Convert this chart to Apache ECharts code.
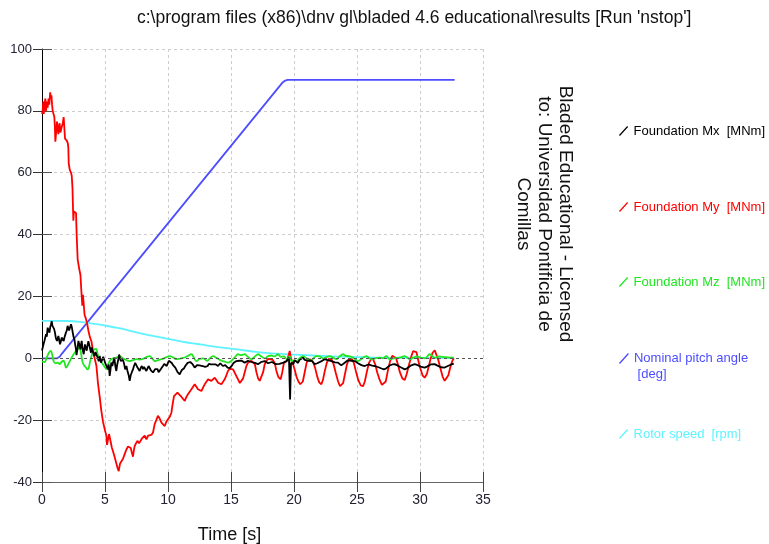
<!DOCTYPE html>
<html>
<head>
<meta charset="utf-8">
<title>Run nstop</title>
<script src="https://cdn.jsdelivr.net/npm/echarts@6/dist/echarts.min.js"></script>
<style>
  html, body { margin: 0; padding: 0; background: #ffffff; }
  #chart { width: 769px; height: 544px; }
</style>
</head>
<body>
<div id="chart"></div>
<script>
// ---- Time axis ticks ----
const xTicks = [0, 5, 10, 15, 20, 25, 30, 35];
const yTicks = [-40, -20, 0, 20, 40, 60, 80, 100];

// ---- Foundation Mx [MNm] ----
const mxTime = [0,0.06,0.12,0.19,0.25,0.32,0.38,0.45,0.52,0.59,0.65,0.72,0.77,0.83,0.9,0.96,1.03,1.1,1.19,1.25,1.3,1.36,1.43,1.5,1.56,1.63,1.72,1.8,1.9,1.97,2.03,2.09,2.15,2.22,2.3,2.37,2.44,2.5,2.57,2.63,2.7,2.74,2.78,2.83,2.89,2.96,3.05,3.1,3.15,3.22,3.31,3.36,3.41,3.48,3.55,3.6,3.68,3.76,3.82,3.89,3.95,4.02,4.09,4.16,4.25,4.33,4.42,4.5,4.58,4.68,4.77,4.86,4.95,5.05,5.15,5.24,5.3,5.37,5.44,5.5,5.58,5.66,5.74,5.82,5.9,5.97,6.05,6.12,6.17,6.25,6.33,6.42,6.5,6.6,6.7,6.78,6.88,6.96,7.04,7.13,7.22,7.3,7.4,7.49,7.58,7.67,7.75,7.83,7.92,8.02,8.1,8.18,8.28,8.37,8.46,8.55,8.63,8.72,8.81,8.9,8.99,9.08,9.17,9.25,9.34,9.43,9.52,9.6,9.7,9.8,9.9,10,10.07,10.13,10.2,10.3,10.4,10.5,10.58,10.67,10.76,10.85,10.93,11.01,11.1,11.19,11.28,11.37,11.46,11.56,11.66,11.76,11.86,11.95,12.04,12.12,12.2,12.3,12.4,12.5,12.58,12.65,12.75,12.85,12.95,13.05,13.15,13.24,13.31,13.4,13.5,13.6,13.7,13.8,13.9,13.97,14.05,14.15,14.25,14.35,14.45,14.55,14.63,14.73,14.82,14.9,15,15.1,15.2,15.3,15.43,15.56,15.65,15.75,15.85,15.96,16.09,16.2,16.35,16.5,16.62,16.75,16.9,17.02,17.14,17.28,17.4,17.55,17.67,17.8,17.95,18.1,18.25,18.4,18.55,18.7,18.85,19,19.15,19.3,19.4,19.5,19.6,19.66,19.69,19.73,19.76,19.85,19.95,20.05,20.19,20.3,20.45,20.6,20.71,20.85,21,21.1,21.25,21.4,21.5,21.64,21.75,21.85,22,22.15,22.3,22.44,22.6,22.75,22.97,23.1,23.25,23.35,23.49,23.6,23.75,23.89,24,24.1,24.25,24.4,24.55,24.7,24.82,24.95,25.08,25.21,25.35,25.5,25.61,25.75,25.9,26.05,26.2,26.41,26.55,26.7,26.8,26.95,27.06,27.14,27.3,27.45,27.6,27.8,27.99,28.15,28.3,28.5,28.65,28.79,28.95,29.1,29.25,29.4,29.58,29.75,29.9,30.05,30.2,30.37,30.55,30.7,30.85,31,31.17,31.35,31.5,31.65,31.8,31.96,32.1,32.25,32.4,32.55,32.68];
const mxValues = [2.5,3,4.5,5.6,5,7.8,7,9.9,9,8.3,10,11,12,10.5,11,9.5,8.3,6.5,5.6,6.5,7.2,6,4.5,5.5,6.7,6.2,5.6,7,8.3,9,10.5,9.9,9,9.5,11,10,8.3,7,6.1,4.5,2.9,1,0.7,3.5,5.6,4.5,2.9,4.5,5.6,3,1.3,3,4.5,3.2,2.5,4,5.5,5.1,3,1.8,3.5,2.9,1.5,0.7,2,1,0.2,-1,0.8,-1.4,-0.5,0.5,0.2,-1.9,-2.5,-3.6,-2,-5.7,-3.5,-1.4,-2.5,-1,0.2,-2.5,-4.1,-2,-0.5,1.2,1.8,-0.9,-1.5,-0.5,-1.5,-3.6,-2.5,-4,-5.5,-7.3,-5.5,-4.5,-3.6,-2.5,-1.5,-1.9,-3,-2.5,-4.1,-3.2,-2.5,-3.5,-2.8,-3,-4.1,-3.5,-2.5,-3,-3.8,-4,-4.6,-4,-3.5,-3,-3.5,-4.5,-4.1,-3.5,-3,-2.5,-1.8,-1.5,-2.5,-1.5,-0.8,-0.3,-1,-1.5,-2.2,-2.8,-3,-3.6,-4.5,-4.8,-5.2,-4.5,-3.8,-4.1,-3.2,-2.5,-2,-1.5,-2,-1.2,-0.9,-1.9,-2.5,-3,-2.5,-2.2,-2.8,-2.3,-1.9,-1.9,-2.5,-2.2,-2.8,-3,-2.5,-1.8,-1.4,-2,-1.7,-2,-2.3,-2,-2.4,-2.5,-2,-1.6,-2.1,-2.5,-2,-2.2,-2.5,-3,-3.6,-3.2,-2.6,-2.2,-1.5,-1.2,-0.9,-0.3,-0.8,-1.2,-0.8,-0.9,-1.4,-1.1,-0.8,-0.9,-1.2,-1,-1.5,-1.7,-1.9,-1.5,-1.2,-1,-0.9,-1.3,-1.6,-1.5,-1.2,-1.6,-1.9,-1.5,-1.8,-1.9,-1.4,-1,-0.9,-0.5,0.2,0.2,-13.3,-13,-1.5,-0.9,-1.8,-0.6,-0.9,-1.5,-0.5,-0.2,0.2,-0.5,-0.4,-0.8,-0.3,-0.8,-1.2,-1.9,-2.3,-1.6,-1.2,-1,-0.6,-0.3,-0.5,-0.8,-0.9,-1.2,-1.3,-1,-1.4,-1.8,-2.3,-2.5,-1.5,-0.9,-0.7,-1,-0.8,-1,-0.9,-1.3,-1.6,-1.9,-2.2,-2.3,-2.5,-2.2,-2,-2.2,-2.4,-2.5,-2.7,-2.9,-3,-3.3,-3.6,-3.6,-3.3,-2.8,-2.3,-2,-1.9,-2.2,-2.5,-3,-3.4,-3.6,-3.3,-2.8,-2.4,-2,-1.9,-2.1,-2.4,-2.7,-2.9,-3,-2.7,-2.3,-2,-1.8,-1.9,-2.3,-2.7,-2.9,-3,-3,-2.8,-2.4,-2.1,-1.9,-1.7];

// ---- Foundation My [MNm] ----
const myTime = [0,0.05,0.1,0.14,0.2,0.27,0.32,0.38,0.45,0.52,0.58,0.65,0.7,0.75,0.8,0.85,0.92,0.98,1.02,1.06,1.12,1.19,1.25,1.3,1.35,1.4,1.46,1.51,1.58,1.65,1.72,1.78,1.83,1.9,1.98,2.05,2.09,2.12,2.2,2.3,2.36,2.42,2.47,2.49,2.53,2.6,2.7,2.75,2.83,2.95,3.05,3.12,3.2,3.25,3.3,3.38,3.47,3.57,3.68,3.79,3.92,4.05,4.18,4.32,4.44,4.58,4.71,4.84,4.98,5.11,5.16,5.24,5.32,5.37,5.45,5.55,5.63,5.77,5.9,6,6.09,6.15,6.2,6.3,6.43,6.56,6.7,6.83,6.96,7.04,7.13,7.22,7.3,7.36,7.46,7.57,7.7,7.83,7.92,8.02,8.15,8.29,8.42,8.55,8.68,8.81,8.94,9.07,9.2,9.34,9.48,9.61,9.74,9.87,10,10.13,10.27,10.38,10.48,10.62,10.75,10.88,11.01,11.17,11.33,11.46,11.59,11.72,11.86,12,12.12,12.25,12.38,12.52,12.65,12.78,12.91,13.05,13.18,13.31,13.44,13.57,13.71,13.84,13.97,14.1,14.24,14.37,14.5,14.63,14.76,14.9,15.03,15.16,15.29,15.43,15.56,15.7,15.83,15.96,16.09,16.22,16.35,16.5,16.62,16.75,16.9,17.02,17.15,17.28,17.41,17.55,17.67,17.8,17.94,18.1,18.3,18.47,18.6,18.75,18.87,18.94,19.07,19.2,19.3,19.45,19.6,19.66,19.71,19.76,19.9,20.05,20.2,20.35,20.5,20.59,20.7,20.85,21,21.1,21.25,21.4,21.55,21.7,21.85,22,22.17,22.3,22.45,22.6,22.75,22.83,23,23.15,23.3,23.5,23.65,23.76,23.9,24.05,24.2,24.35,24.42,24.6,24.75,24.9,25.1,25.3,25.48,25.62,25.8,25.95,26.14,26.3,26.45,26.6,26.8,26.98,27.12,27.28,27.45,27.62,27.8,27.95,28.1,28.25,28.4,28.6,28.79,28.95,29.1,29.3,29.45,29.58,29.72,29.85,30,30.2,30.37,30.55,30.7,30.85,31,31.17,31.3,31.45,31.6,31.8,31.96,32.1,32.25,32.4,32.55,32.68];
const myValues = [79,80,83,79,82,84,80,83,81,84,82,86,84,85,82,80,80,78,75,70,73,76.5,74,72.5,75,76,73,72.5,75,76,78,74,71,70.5,70.3,69.5,68,63,61,60,59,55,47,44.5,47.5,47,47,40,32,29,27,22,17,20.5,18,14,13,11.5,9,7,5.5,2.5,0,-2.5,-8,-12.5,-17,-20.5,-23,-25,-28,-28.5,-24.5,-24,-27,-29,-30,-32,-34,-35.5,-36.5,-35,-34,-33.5,-32.5,-31,-29.5,-28.5,-29,-29,-30.5,-31.8,-29.5,-28.3,-27.5,-26.7,-27.5,-27.3,-26,-25.6,-25,-26.2,-25,-24.6,-24.8,-24,-21.3,-20,-18.6,-19.5,-20.8,-21,-21.9,-20.5,-19.7,-19,-17.6,-14.5,-12.2,-11.8,-11.1,-11.5,-12.2,-13,-13.8,-12.5,-11.6,-10.8,-10,-9.5,-8.4,-9.2,-10,-10.2,-10.6,-9.5,-8.4,-7.6,-6.8,-7,-7.3,-6.8,-6.3,-7,-7.9,-8.2,-8.4,-7.6,-6.8,-5.5,-4.1,-3.4,-3,-3.6,-4.6,-5.8,-6.8,-8,-8.4,-6.5,-4.5,-2.5,-1.4,-0.9,-0.8,-0.9,-2,-4.5,-6.5,-7.3,-7.3,-4.5,-2,-0.9,-0.2,-0.3,-0.5,-1.5,-4,-6,-6.5,-6.8,-4.5,-1.5,-0.9,-0.9,-0.5,2.4,2.6,0,-1.5,-3.6,-6,-7.5,-8.4,-9,-7.5,-4.5,-1.5,-0.3,0.2,-0.5,-1.5,-3.5,-6,-7.8,-8.4,-7,-4,-1.5,-0.2,0.2,-0.5,-2,-4.5,-7.5,-9,-9.5,-8,-5,-2,-0.4,0,-0.3,-1.5,-4,-7,-8.8,-9,-7.5,-4,-1.5,-0.1,-0.5,-2,-4.5,-7,-8.6,-9,-7.5,-4,-1,0.8,1.3,0,-2,-4.5,-6.5,-7,-5,-2.5,0.5,2.3,2.9,2,-0.5,-3,-5.5,-6.3,-5,-2.5,0,1.8,2.6,2,-0.5,-3,-6,-7.3,-7.3,-5.5,-3,-1,0];

// ---- Foundation Mz [MNm] ----
const mzTime = [0,0.2,0.4,0.55,0.7,0.82,0.95,1.1,1.27,1.4,1.55,1.7,1.8,1.9,2,2.1,2.2,2.35,2.5,2.6,2.75,2.86,2.95,3.02,3.1,3.23,3.35,3.49,3.6,3.7,3.82,3.95,4.05,4.16,4.3,4.42,4.55,4.7,4.85,5,5.11,5.25,5.38,5.5,5.7,5.9,6.05,6.17,6.35,6.56,6.75,6.96,7.2,7.5,7.75,8,8.3,8.55,8.75,8.94,9.2,9.5,9.8,10.13,10.4,10.67,10.95,11.2,11.5,11.86,12.05,12.25,12.5,12.8,13.1,13.3,13.57,13.9,14.15,14.37,14.6,14.76,15,15.3,15.56,15.8,16.09,16.35,16.62,16.9,17.14,17.4,17.67,17.95,18.2,18.45,18.73,18.95,19.2,19.45,19.65,19.79,20,20.2,20.45,20.71,21,21.25,21.5,21.78,22.05,22.3,22.55,22.83,23.1,23.35,23.6,23.89,24.1,24.35,24.6,24.85,25.08,25.35,25.74,26.14,26.45,26.8,27.05,27.33,27.6,27.9,28.3,28.79,29.18,29.45,29.75,30.05,30.4,30.77,31.17,31.5,31.96,32.2,32.44,32.68];
const mzValues = [-1,-1.2,0.5,1.8,2.4,1,-1.2,-1.6,-1.4,-1.9,-1.2,-0.8,-1.5,-3,-2.6,-1.8,-1,0.2,1.2,1.8,2.6,3,3.6,3.2,1.5,-1.4,-2.3,-3,-3.6,-3.2,-1,1,2.4,2.9,3,1.2,-0.3,-1.2,-2,-3,-3.4,-2,-0.9,-0.3,0,0.2,0.5,0.7,0.2,-0.3,-0.7,-0.9,-0.6,-0.3,-0.4,-0.2,0.4,0.7,0,-0.9,-0.6,-0.3,0.2,0.7,0.3,-0.3,-0.1,0.1,0.6,1.3,0.2,-0.9,-0.2,0,-0.8,-0.1,0.7,0,-0.6,-0.9,-1.2,-1.4,-0.9,0.3,1.3,1,1.3,0.4,-0.3,0.6,1.3,0.6,0,0.7,0.9,0.6,1.3,0.5,0.6,-0.3,0.7,-0.9,-0.7,-0.9,0,0.7,0,-0.9,-0.2,0.7,0.6,0,0.3,0.7,0.2,-0.3,0.5,1.3,0.8,0.7,0.4,-0.3,-0.9,-0.2,0.7,-0.3,0,0.2,0,0.7,-0.3,0,0.1,0.7,-0.3,0.2,0.6,0.2,0,1.3,0.2,0.6,0.4,0.3,0.2,0.2];

// ---- Nominal pitch angle [deg] ----
const pitchTime = [0,1.2,1.4,1.6,19.1,19.3,19.5,32.75];
const pitchValues = [0,0,0.5,1.6,89.2,89.8,90,90];

// ---- Rotor speed [rpm] ----
const rotorTime = [0,1,2,3,3.5,4,5,6,7,8,9,10,11,12,13,14,15,16,17,18,19,20,21,22,23,24,25,26,28,30,32.7];
const rotorValues = [12.1,12.1,12.05,11.8,11.5,11.2,10.6,9.8,8.9,7.9,7.1,6.3,5.5,4.8,4.2,3.6,3.1,2.6,2.1,1.7,1.4,1.2,1,0.8,0.6,0.5,0.4,0.3,0.2,0.15,0.1];

const seriesNames = [
  'Foundation Mx  [MNm]',
  'Foundation My  [MNm]',
  'Foundation Mz  [MNm]',
  'Nominal pitch angle\n [deg]',
  'Rotor speed  [rpm]'
];
const seriesColors = ['#000000', '#ff0000', '#22e622', '#4d4dff', '#5ff2ff'];

const zip = (t, v) => t.map((x, i) => [x, v[i]]);

const FONT = '"Liberation Sans", Arial, sans-serif';
const slashIcon = 'path://M0,10L9,0L10,1L1,11Z';
const slashIconTall = 'path://M0,10L9,0L10,1L1,11Z M0,26L0.2,26L0,26.2Z';

const chart = echarts.init(document.getElementById('chart'), null, { renderer: 'canvas' });

const legendCenters = [131, 207, 282, 366, 434];
const legends = seriesNames.map((name, i) => {
  const twoLine = name.indexOf('\n') >= 0;
  return {
    show: true,
    orient: 'vertical',
    left: 619,
    top: twoLine ? legendCenters[i] - 16 : legendCenters[i] - 8,
    padding: 0,
    selectedMode: false,
    icon: twoLine ? slashIconTall : slashIcon,
    itemWidth: 10,
    itemHeight: twoLine ? 26 : 10,
    data: [{ name: name, textStyle: { color: seriesColors[i] } }],
    textStyle: { fontFamily: FONT, fontSize: 13, lineHeight: 16 }
  };
});

const lineSeries = (idx, t, v, extra) => Object.assign({
  name: seriesNames[idx],
  type: 'line',
  data: zip(t, v),
  showSymbol: false,
  symbol: 'none',
  animation: false,
  color: seriesColors[idx],
  lineStyle: { color: seriesColors[idx], width: 1.8 }
}, extra || {});

const option = {
  backgroundColor: '#ffffff',
  animation: false,
  title: {
    text: "c:\\program files (x86)\\dnv gl\\bladed 4.6 educational\\results [Run 'nstop']",
    left: 132,
    top: 4,
    textStyle: { fontFamily: FONT, fontSize: 17.5, fontWeight: 'normal', color: '#111111' }
  },
  legend: legends,
  // plot area placed explicitly; labels and axis names may sit outside it
  grid: { left: 42, top: 49, width: 441, height: 433, containLabel: false, outerBoundsMode: 'none' },
  xAxis: [
    {
      type: 'value', min: 0, max: 35, interval: 5,
      axisLine: { show: true, onZero: false, lineStyle: { color: '#666666', width: 1 } },
      axisTick: { show: true, inside: false, length: 10, lineStyle: { color: '#444444' } },
      axisLabel: { margin: 11, fontFamily: FONT, fontSize: 14, color: '#222233' },
      splitLine: { show: true, lineStyle: { color: '#cccccc', type: [3, 3], width: 1 } },
      name: 'Time [s]',
      nameLocation: 'middle',
      nameGap: 44,
      nameTextStyle: { fontFamily: FONT, fontSize: 18, color: '#111111', padding: [0, 66, 0, 0] }
    },
    {
      type: 'value', min: 0, max: 35, interval: 5, position: 'bottom',
      axisLine: { show: false, onZero: false },
      axisTick: { show: true, inside: true, length: 10, lineStyle: { color: '#444444' } },
      axisLabel: { show: false },
      splitLine: { show: false }
    }
  ],
  yAxis: [
    {
      type: 'value', min: -40, max: 100, interval: 20,
      axisLine: { show: true, onZero: false, lineStyle: { color: '#000000', width: 1 } },
      axisTick: { show: true, inside: false, length: 9, lineStyle: { color: '#333333' } },
      axisLabel: { margin: 10, fontFamily: FONT, fontSize: 13, color: '#222233' },
      splitLine: { show: true, lineStyle: { color: '#cccccc', type: [3, 3], width: 1 } }
    },
    {
      type: 'value', min: -40, max: 100, interval: 20, position: 'left',
      axisLine: { show: false, onZero: false },
      axisTick: { show: true, inside: true, length: 10, lineStyle: { color: '#555555' } },
      axisLabel: { show: false },
      splitLine: { show: false }
    }
  ],
  graphic: [
    {
      type: 'text',
      x: 544,
      y: 214,
      rotation: -Math.PI / 2,
      style: {
        text: 'Bladed Educational - Licensed\nto: Universidad Pontificia de\nComillas',
        font: '19px "Liberation Sans", Arial, sans-serif',
        fill: '#111111',
        align: 'center',
        verticalAlign: 'middle',
        lineHeight: 21
      }
    }
  ],
  series: [
    lineSeries(3, pitchTime, pitchValues),
    lineSeries(4, rotorTime, rotorValues, { smooth: 0.3 }),
    lineSeries(1, myTime, myValues),
    lineSeries(2, mzTime, mzValues, { smooth: 0.35 }),
    lineSeries(0, mxTime, mxValues, {
      markLine: {
        silent: true,
        symbol: 'none',
        label: { show: false },
        animation: false,
        lineStyle: { color: '#555555', type: [3, 3], width: 1 },
        data: [{ yAxis: 0 }]
      }
    })
  ]
};

chart.setOption(option);
</script>
</body>
</html>
